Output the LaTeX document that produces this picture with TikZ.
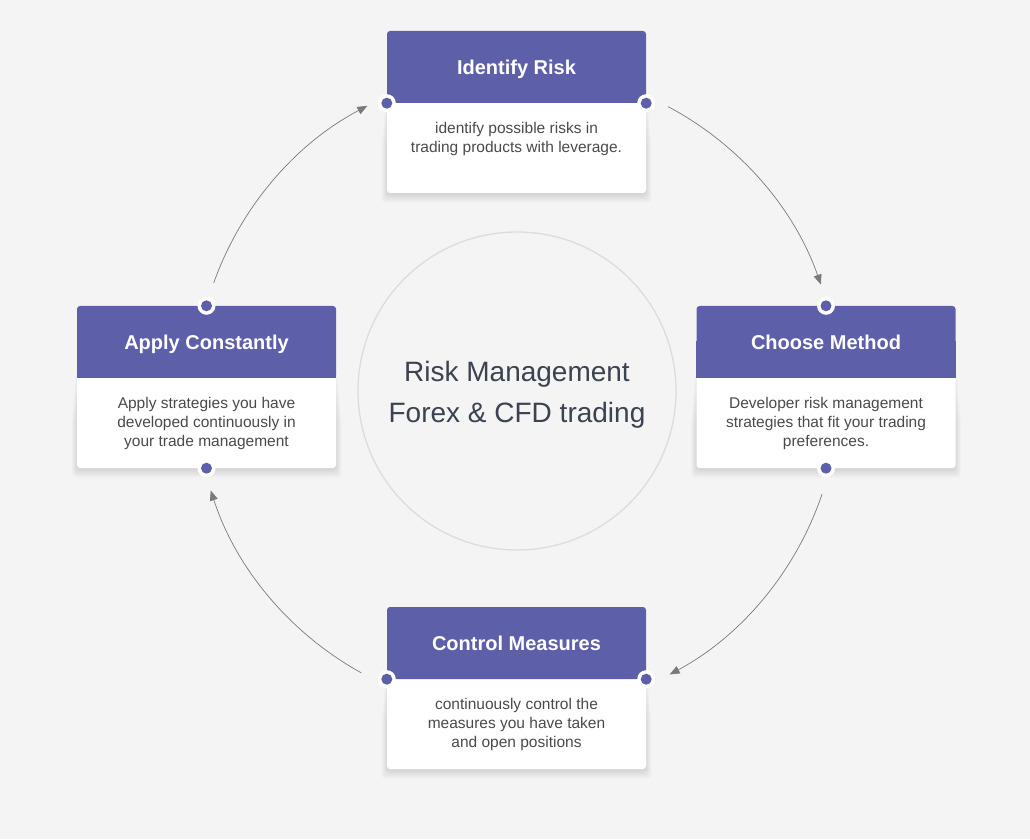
\documentclass[tikz,border=0pt]{standalone}
\usepackage{fontspec}
\setmainfont{Liberation Sans}
\usetikzlibrary{arrows.meta,calc}
\definecolor{bg}{HTML}{F4F4F4}
\definecolor{hdr}{HTML}{5E5FA9}
\definecolor{bodytxt}{HTML}{4A4A4A}
\definecolor{titletxt}{HTML}{3B4250}
\definecolor{ring}{HTML}{DCDCDC}
\definecolor{conncol}{HTML}{7A7A7A}
\newcommand\mycardshadow[1]{%
  \foreach \i in {1,...,10} {%
    \fill[black, opacity=0.013, rounded corners=4pt]
      ($(#1)+(-129-0.6*\i,-82-0.9*\i)$) rectangle ($(#1)+(129+0.6*\i,40-7*\i)$);
  }%
}
\begin{document}
\begin{tikzpicture}[x=1pt,y=1pt,
 card/.style={rectangle, rounded corners=3pt, fill=white, minimum width=259pt, minimum height=162pt, inner sep=0pt},
 head/.style={rectangle, rounded corners=3pt, fill=hdr, minimum width=259pt, minimum height=72pt, inner sep=0pt},
 headtxt/.style={text=white, font=\fontsize{20}{24}\selectfont\bfseries, text height=14.3pt, text depth=0pt, inner sep=0pt},
 bodytext/.style={text=bodytxt, font=\fontsize{15.5}{19}\selectfont, align=center, anchor=north, inner sep=0pt},
 dot/.style={circle, fill=white, minimum size=18pt, inner sep=0pt,
   path picture={\fill[hdr] (path picture bounding box.center) circle (5.5pt);}},
 conn/.style={draw=conncol, line width=0.7pt, -{Triangle[length=10pt,width=8pt]}},
 centertxt/.style={text=titletxt, font=\fontsize{28}{32}\selectfont, text height=20pt, text depth=0pt, inner sep=0pt},
]
\fill[bg] (0,0) rectangle (1030,839);
\useasboundingbox (0,0) rectangle (1030,839);

% center circle
\coordinate (c) at (517,448);
\node[circle, draw=ring, line width=1.3pt, minimum size=318pt, inner sep=0pt] (hub) at (c) {};
\node[centertxt] (hubt1) at (517,467) {Risk Management};
\node[centertxt] (hubt2) at (517,427) {Forex \& CFD trading};

% card positions
\coordinate (Tc) at (516.5,727);
\coordinate (Rc) at (826,452);
\coordinate (Lc) at (206.5,452);
\coordinate (Bc) at (516.5,151);
\mycardshadow{Tc}
\mycardshadow{Rc}
\mycardshadow{Lc}
\mycardshadow{Bc}

% top card
\node[card] (T) at (Tc) {};
\node[head] (Th) at (516.5,772) {};
\fill[hdr] ([yshift=1pt]Th.west) rectangle (Th.south east);
\node[headtxt] (Tt) at (Th.center) {Identify Risk};
\node[bodytext] (Tb) at (516.5,717) {identify possible risks in\\trading products with leverage.};

% right card
\node[card] (R) at (Rc) {};
\node[head] (Rh) at (826,497) {};
\fill[hdr] ([yshift=1pt]Rh.west) rectangle (Rh.south east);
\node[headtxt] (Rt) at (Rh.center) {Choose Method};
\node[bodytext] (Rb) at (826,442) {Developer risk management\\strategies that fit your trading\\preferences.};

% left card
\node[card] (L) at (Lc) {};
\node[head] (Lh) at (206.5,497) {};
\fill[hdr] ([yshift=1pt]Lh.west) rectangle (Lh.south east);
\node[headtxt] (Lt) at (Lh.center) {Apply Constantly};
\node[bodytext] (Lb) at (206.5,442) {Apply strategies you have\\developed continuously in\\your trade management};

% bottom card
\node[card] (B) at (Bc) {};
\node[head] (Bh) at (516.5,196) {};
\fill[hdr] ([yshift=1pt]Bh.west) rectangle (Bh.south east);
\node[headtxt] (Bt) at (Bh.center) {Control Measures};
\node[bodytext] (Bb) at (516.5,141) {continuously control the\\measures you have taken\\and open positions};

% dots
\node[dot] (Td1) at (Th.south west) {};
\node[dot] (Td2) at (Th.south east) {};
\node[dot] (Rd1) at (Rh.north) {};
\node[dot] (Rd2) at (R.south) {};
\node[dot] (Ld1) at (Lh.north) {};
\node[dot] (Ld2) at (L.south) {};
\node[dot] (Bd1) at (Bh.south west) {};
\node[dot] (Bd2) at (Bh.south east) {};

% connectors (arcs around the hub)
\coordinate (a1) at ($(c)+(62:322pt)$);
\coordinate (a2) at ($(c)+(-18.7:322pt)$);
\coordinate (a3) at ($(c)+(-118.9:322pt)$);
\coordinate (a4) at ($(c)+(160.4:322pt)$);
\draw[conn] (a1) arc[start angle=62, end angle=19.3, radius=322pt];
\draw[conn] (a2) arc[start angle=-18.7, end angle=-61.7, radius=322pt];
\draw[conn] (a3) arc[start angle=-118.9, end angle=-162, radius=322pt];
\draw[conn] (a4) arc[start angle=160.4, end angle=117.7, radius=322pt];
\end{tikzpicture}
\end{document}
